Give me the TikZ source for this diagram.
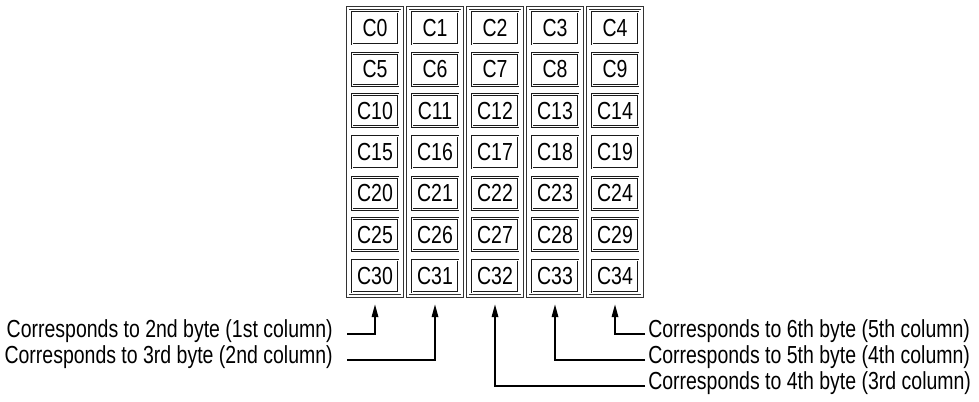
\documentclass[tikz,border=0pt]{standalone}
\usepackage{fontspec}
\setmainfont[FakeStretch=0.79]{Liberation Sans}
\usetikzlibrary{matrix,fit,arrows.meta}

\tikzset{
	cellbox/.style={draw=black!90, double, double distance=0.55pt, line width=0.7pt,
		minimum width=34.7pt, minimum height=24pt, inner sep=0pt, outer sep=0pt},
	colbox/.style={draw=black!80, double, double distance=1pt, line width=0.7pt, inner sep=3pt},
	lbl/.style={inner sep=0pt},
	ptr/.style={-{Triangle[length=9.5pt,width=5pt]}, line width=0.85pt}
}

\begin{document}
\begin{tikzpicture}[x=0.75pt, y=0.75pt, font=\fontsize{18.5pt}{21pt}\selectfont]
			\useasboundingbox (0,0) rectangle (979,401);
			\matrix (c) at (495,249) [matrix of nodes, nodes={cellbox},
				column sep={45pt,between origins}, row sep={31pt,between origins}]
			{
				C0 & C1 & C2 & C3 & C4\\
				C5 & C6 & C7 & C8 & C9\\
				C10 & C11 & C12 & C13 & C14\\
				C15 & C16 & C17 & C18 & C19\\
				C20 & C21 & C22 & C23 & C24\\
				C25 & C26 & C27 & C28 & C29\\
				C30 & C31 & C32 & C33 & C34\\
			};
			\foreach \j in {1,...,5}
				\node[colbox, fit=(c-1-\j)(c-7-\j)] (col\j) {};

			\node[lbl, anchor=mid east] (b2) at (333,67) {Corresponds to 2nd byte (1st column)};
			\node[lbl, anchor=mid east] (b3) at (333,41) {Corresponds to 3rd byte (2nd column)};
			\node[lbl, anchor=mid west] (b6) at (648,67) {Corresponds to 6th byte (5th column)};
			\node[lbl, anchor=mid west] (b5) at (648,41) {Corresponds to 5th byte (4th column)};
			\node[lbl, anchor=mid west] (b4) at (648,15) {Corresponds to 4th byte (3rd column)};

			\draw[ptr] ([xshift=10.5pt]b2.mid east) -| ([yshift=-6pt]col1.south);
			\draw[ptr] ([xshift=10.5pt]b3.mid east) -| ([yshift=-6pt]col2.south);
			\draw[ptr] ([xshift=-2.25pt]b4.mid west) -| ([yshift=-6pt]col3.south);
			\draw[ptr] ([xshift=-2.25pt]b5.mid west) -| ([yshift=-6pt]col4.south);
			\draw[ptr] ([xshift=-2.25pt]b6.mid west) -| ([yshift=-6pt]col5.south);
		\end{tikzpicture}
\end{document}
